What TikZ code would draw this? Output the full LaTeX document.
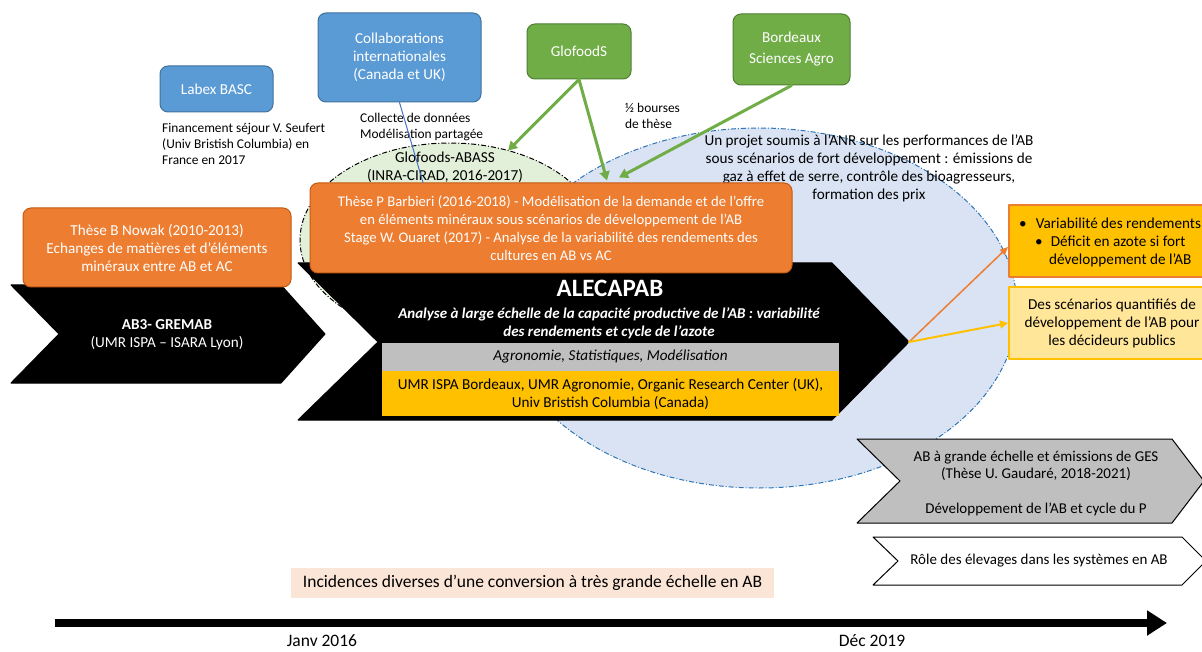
\documentclass[tikz,border=0pt]{standalone}
\usepackage{fontspec}
\setmainfont{Carlito}
\usepackage{tikz}
\definecolor{boxorange}{RGB}{237,125,49}
\definecolor{orangeline}{RGB}{197,90,17}
\definecolor{boxblue}{RGB}{91,155,213}
\definecolor{blueline}{RGB}{65,113,156}
\definecolor{boxgreen}{RGB}{112,173,71}
\definecolor{greenline}{RGB}{80,126,50}
\definecolor{ellgreen}{RGB}{226,240,217}
\definecolor{ellblue}{RGB}{218,227,243}
\definecolor{elldash}{RGB}{46,117,182}
\definecolor{bandgrey}{RGB}{191,191,191}
\definecolor{bandyellow}{RGB}{255,192,0}
\definecolor{paleyellow}{RGB}{255,230,153}
\definecolor{peach}{RGB}{251,229,214}
\definecolor{linkblue}{RGB}{68,114,196}
\usetikzlibrary{arrows.meta,shapes.geometric}
\tikzset{
    box/.style = {rounded corners=8pt, line width=1pt, align=center, inner sep=0pt,
        text=white, font=\fontsize{15.2}{18}\selectfont},
    orangebox/.style = {box, fill=boxorange, draw=orangeline},
    bluebox/.style = {box, fill=boxblue, draw=blueline},
    greenbox/.style = {box, fill=boxgreen, draw=greenline},
    note/.style = {anchor=west, align=left, inner sep=0pt, font=\fontsize{13.4}{16}\selectfont},
    txt/.style = {align=center, inner sep=0pt, font=\fontsize{15.2}{18}\selectfont},
    dashdot/.style = {line cap=butt, line width=1pt, dash pattern=on 5pt off 2pt on 1pt off 2pt},
    band/.style = {rectangle, inner sep=0pt, align=center, minimum width=457pt,
        font=\fontsize{15.2}{18}\selectfont},
    greenarrow/.style = {draw=boxgreen, line width=3pt, -{Triangle[length=9pt,width=10pt]}},
    chevron/.style = {line width=1pt, draw=black}
}

\begin{document}
\begin{tikzpicture}[line cap=round,line join=round,x=1pt,y=-1pt]
    \useasboundingbox (0,0) rectangle (1202,652);
    %
    \node[ellipse, minimum width=300pt, minimum height=194pt, inner sep=0pt, outer sep=0pt,
        fill=ellgreen, draw=black, dashdot] (abass) at (450,240) {};
    \node[ellipse, minimum width=516pt, minimum height=360pt, inner sep=0pt, outer sep=0pt,
        fill=ellblue, draw=elldash, dashdot] (anr) at (759,308) {};
    \node[txt] (abassTxt) at (445,167) {Glofoods-ABASS\\(INRA-CIRAD, 2016-2017)};
    \node[txt] (anrTxt) at (869,168) {Un projet soumis à l’ANR sur les performances de l’AB\\
        sous scénarios de fort développement : émissions de\\
        gaz à effet de serre, contrôle des bioagresseurs,\\formation des prix};
    %
    \node[bluebox, minimum width=113pt, minimum height=46pt] (labex) at (216.5,89) {Labex BASC};
    \node[note] (sejour) at (162,144) {Financement séjour V. Seufert\\(Univ Bristish Columbia) en\\France en 2017};
    \node[bluebox, minimum width=163pt, minimum height=89pt] (collab) at (399.5,57.5)
        {Collaborations\\internationales\\(Canada et UK)};
    \node[note] (collecte) at (360,127.5) {Collecte de données\\Modélisation partagée};
    \node[greenbox, minimum width=104pt, minimum height=55pt] (glof) at (579,51.5) {GlofoodS};
    \node[greenbox, minimum width=117pt, minimum height=71pt] (bsa) at (791.5,49.5)
        {Bordeaux\\[3pt]Sciences Agro};
    \node[note] (bourses) at (625,116) {½ bourses\\de thèse};
    %
    \draw[chevron, fill=black] (11,285) -- (281,285) -- (325,334) -- (281,383) -- (11,383) -- (59,334) -- cycle;
    \node[txt, text=white] (gremab) at (167,335) {\textbf{AB3- GREMAB}\\(UMR ISPA – ISARA Lyon)};
    \draw[chevron, fill=black] (298,263) -- (832,263) -- (909,342) coordinate (alecTip)
        -- (832,420) -- (298,420) -- (378,342) -- cycle;
    \node[txt, text=white, font=\fontsize{25}{28}\bfseries] (alec) at (610,288) {ALECAPAB};
    \node[txt, text=white, font=\fontsize{15}{18}\bfseries\itshape] (alecSub) at (609,323)
        {Analyse à large échelle de la capacité productive de l’AB : variabilité\\des rendements et cycle de l’azote};
    \node[band, fill=bandgrey, minimum height=28pt, font=\fontsize{15.2}{18}\itshape] (disc) at (610.5,357)
        {Agronomie, Statistiques, Modélisation};
    \node[band, fill=bandyellow, minimum height=45pt] (partners) at (610.5,393.5)
        {UMR ISPA Bordeaux, UMR Agronomie, Organic Research Center (UK),\\Univ Bristish Columbia (Canada)};
    %
    \node[orangebox, minimum width=268pt, minimum height=79pt] (nowak) at (157,247.5)
        {Thèse B Nowak (2010-2013)\\Echanges de matières et d’éléments\\minéraux entre AB et AC};
    \node[orangebox, minimum width=482pt, minimum height=90pt, font=\fontsize{14.7}{18}\selectfont] (barb) at (551,228)
        {Thèse P Barbieri (2016-2018) - Modélisation de la demande et de l’offre\\
        en éléments minéraux sous scénarios de développement de l’AB\\
        Stage W. Ouaret (2017) - Analyse de la variabilité des rendements des\\cultures en AB vs AC};
    %
    \draw[linkblue, line width=1pt] (collab.south) -- ([xshift=-128pt]barb.north);
    \draw[greenarrow] (glof.south) -- (abass.57);
    \draw[greenarrow] (glof.south) -- ([xshift=56pt,yshift=2pt]barb.north);
    \draw[greenarrow] (bsa.south) -- ([xshift=68pt,yshift=5pt]barb.north);
    %
    \node[rectangle, minimum width=206pt, minimum height=72pt, fill=bandyellow, draw=boxorange,
        line width=2pt] (res1) at (1112,241) {};
    \node[note, font=\fontsize{15.2}{18}\selectfont] (res1Txt) at (1019,242)
        {\textbullet\hspace{9pt}Variabilité des rendements\\
        \hspace{16pt}\textbullet\hspace{8pt}Déficit en azote si fort\\
        \hspace{30pt}développement de l’AB};
    \node[rectangle, minimum width=206pt, minimum height=72pt, fill=paleyellow, draw=bandyellow,
        line width=2pt, txt] (res2) at (1112,323)
        {Des scénarios quantifiés de\\développement de l’AB pour\\les décideurs publics};
    \draw[boxorange, line width=1.5pt, -{Triangle[length=8pt,width=7pt]}] (alecTip) -- ([yshift=-6pt]res1.west);
    \draw[bandyellow, line width=2pt, -{Triangle[length=8pt,width=8pt]}] (alecTip) -- (res2.west);
    %
    \draw[chevron, fill=bandgrey] (857,439) -- (1172,439) -- (1204,481) -- (1172,523) -- (857,523) -- (900,481) -- cycle;
    \node[txt, font=\fontsize{15}{17.5}\selectfont] (ges) at (1036,483.5)
        {AB à grande échelle et émissions de GES\\(Thèse U. Gaudaré, 2018-2021)\\[17.5pt]Développement de l’AB et cycle du P};
    \draw[chevron, fill=white] (873,537) -- (1182,537) -- (1206,561) -- (1182,585) -- (873,585) -- (898,561) -- cycle;
    \node[txt, font=\fontsize{15}{17.5}\selectfont] (elevage) at (1039,561) {Rôle des élevages dans les systèmes en AB};
    %
    \node[rectangle, fill=peach, minimum width=483pt, minimum height=30pt, inner sep=0pt,
        font=\fontsize{17.5}{20}\selectfont] (incid) at (532.5,583)
        {Incidences diverses d’une conversion à très grande échelle en AB};
    \coordinate (tlStart) at (55,623);
    \coordinate (tlEnd) at (1167,623);
    \draw[line width=8pt, line cap=butt, -{Triangle[length=20pt,width=24pt]}] (tlStart) -- (tlEnd);
    \node[txt, font=\fontsize{17.5}{20}\selectfont] (janv) at (322,641) {Janv 2016};
    \node[txt, font=\fontsize{17.5}{20}\selectfont] (dec) at (872,641) {Déc 2019};
\end{tikzpicture}
\end{document}
